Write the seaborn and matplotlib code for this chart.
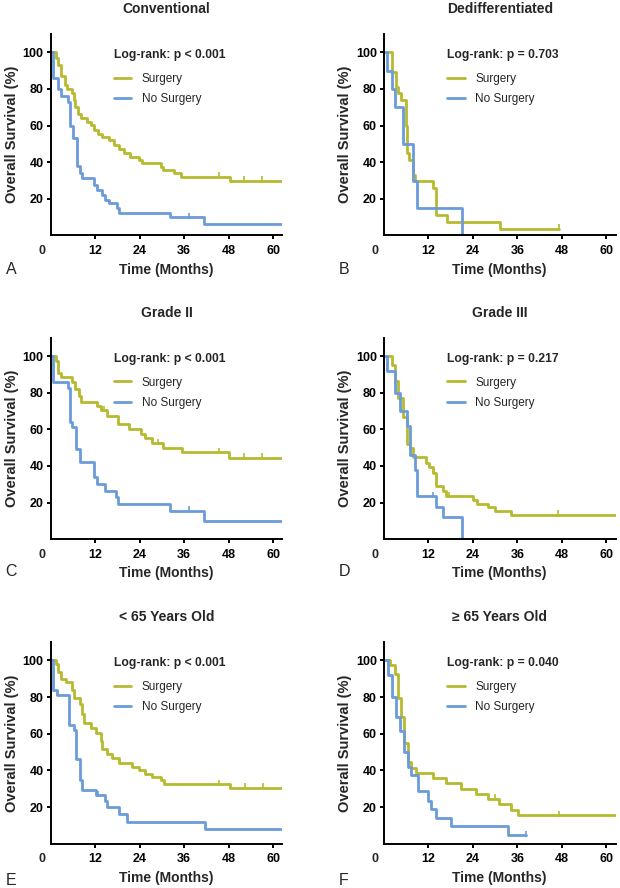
"""Kaplan-Meier overall survival curves, surgery vs no surgery, six subgroups."""

import numpy as np
import matplotlib
matplotlib.use("Agg")
import matplotlib.pyplot as plt
import seaborn as sns

# ---- data (time in months, survival in %) ----
titles = ["Conventional", "Dedifferentiated", "Grade II", "Grade III",
          "< 65 Years Old", "\u2265 65 Years Old"]
letters = ["A", "B", "C", "D", "E", "F"]
pvalues = ["p < 0.001", "p = 0.703", "p < 0.001", "p = 0.217",
           "p < 0.001", "p = 0.040"]

a_surg_t = [0, 1.4, 2.0, 2.7, 3.8, 4.5, 5.8, 6.2, 6.7, 7.3, 8.2, 9.7, 10.9, 11.7, 12.9,
            13.9, 15.7, 17.0, 18.4, 19.7, 21.4, 23.7, 24.7, 29.7, 30.3, 33.2, 35.1, 48.4, 62.5]
a_surg_s = [100, 97, 93, 87, 82, 80, 77.5, 74, 70, 66.5, 64, 62, 60.5, 57.5, 55.5,
            54, 52, 49.5, 47, 45, 43, 41, 39.5, 37.5, 36, 34, 32, 30, 30]
a_surg_c = [45.3, 52.0, 56.9]
a_none_t = [0, 0.7, 2.0, 2.9, 4.7, 5.1, 6.0, 7.1, 7.9, 8.6, 11.7, 12.6, 13.8, 14.7, 15.7,
            17.9, 18.5, 32.3, 41.3, 62.5]
a_none_s = [100, 86, 80, 76, 73, 59.5, 53, 38, 34, 31.5, 27.5, 25, 22, 19.5, 17.5,
            15, 12.5, 10, 6.5, 6.5]
a_none_c = [37.2]

b_surg_t = [0, 2.3, 3.3, 3.9, 4.7, 5.9, 6.3, 6.9, 8.0, 8.4, 13.3, 14.2, 17.0, 31.2, 47.3]
b_surg_s = [100, 89, 81, 78, 74, 60, 45, 41, 33, 30, 26, 11, 7.4, 3.7, 3.7]
b_surg_c = [47.3]
b_none_t = [0, 1.0, 2.1, 3.0, 5.3, 8.0, 9.0, 21.2]
b_none_s = [100, 90, 80, 70, 50, 30, 15, 0]
b_none_c = []

c_surg_t = [0, 1.4, 2.0, 2.9, 5.8, 6.7, 7.6, 8.2, 12.6, 13.5, 15.3, 18.2, 21.0, 24.5,
            25.4, 27.4, 30.3, 35.4, 48.1, 62.5]
c_surg_s = [100, 97.5, 91, 88.5, 86, 82, 78, 75, 73, 70.5, 67.5, 63, 60, 57.5,
            55, 52.5, 50, 47.5, 44.5, 44.5]
c_surg_c = [14.5, 29.0, 45.3, 52.0, 56.9]
c_none_t = [0, 0.7, 4.7, 5.1, 5.8, 6.9, 7.8, 11.7, 12.6, 14.7, 17.5, 18.2, 32.3, 41.3, 62.5]
c_none_s = [100, 86, 82.5, 64, 61, 49.5, 42, 34, 30, 26.5, 23, 19, 15.5, 10, 10]
c_none_c = [37.2]

d_surg_t = [0, 2.1, 3.0, 3.9, 5.1, 6.2, 7.1, 7.8, 11.5, 12.3, 13.3, 14.2, 16.0, 16.9,
            24.1, 25.0, 28.1, 29.9, 34.4, 62.5]
d_surg_s = [100, 95, 86.5, 77, 66.5, 52, 50, 45, 41.5, 39.5, 36, 29, 26.5, 23.5,
            21.5, 19, 17.5, 15.5, 13.5, 13.5]
d_surg_c = [17.5, 47.0]
d_none_t = [0, 1.0, 3.0, 4.4, 6.2, 7.1, 8.4, 9.0, 14.1, 16.0, 21.2]
d_none_s = [100, 92, 80, 70, 62, 46, 38, 23.5, 17.5, 12, 0]
d_none_c = [13.3]

e_surg_t = [0, 1.4, 2.0, 2.9, 4.2, 5.8, 6.4, 7.8, 8.6, 9.1, 10.9, 12.2, 13.5, 13.9, 15.3,
            16.6, 18.4, 21.9, 23.7, 25.4, 27.2, 29.8, 30.7, 48.4, 62.5]
e_surg_s = [100, 98, 93.5, 90, 88, 84, 79.5, 76, 70.5, 66, 63, 60.5, 56, 51.5, 49,
            47, 44, 42, 40, 38, 36.5, 35, 32.5, 30.5, 30.5]
e_surg_c = [45.3, 52.3, 57.2]
e_none_t = [0, 0.7, 1.8, 4.9, 6.2, 6.9, 7.8, 8.6, 12.2, 14.7, 15.3, 18.5, 20.6, 41.7, 62.5]
e_none_s = [100, 84, 81, 65, 62, 46, 35, 29.5, 26.5, 23.5, 20, 16, 12, 8, 8]
e_none_c = [12.8]

f_surg_t = [0, 1.6, 3.0, 3.8, 4.7, 5.5, 6.4, 7.4, 8.6, 13.2, 16.8, 20.9, 24.9, 28.0,
            31.0, 34.3, 36.1, 62.5]
f_surg_s = [100, 97.5, 92.5, 79.5, 69, 55, 44.5, 41.5, 38.5, 36, 33, 30, 27, 24.5,
            21.5, 18.5, 15.5, 15.5]
f_surg_c = [30.0, 47.2]
f_none_t = [0, 1.2, 2.1, 3.2, 4.3, 5.4, 6.5, 7.4, 9.2, 11.9, 12.8, 14.1, 18.2, 33.4, 38.3]
f_none_s = [100, 92, 80, 69, 61.5, 50, 42, 37.5, 28.5, 23.5, 19, 14, 9.5, 4.5, 4.5]
f_none_c = [38.3]

surgery = [(a_surg_t, a_surg_s, a_surg_c), (b_surg_t, b_surg_s, b_surg_c),
           (c_surg_t, c_surg_s, c_surg_c), (d_surg_t, d_surg_s, d_surg_c),
           (e_surg_t, e_surg_s, e_surg_c), (f_surg_t, f_surg_s, f_surg_c)]
no_surgery = [(a_none_t, a_none_s, a_none_c), (b_none_t, b_none_s, b_none_c),
              (c_none_t, c_none_s, c_none_c), (d_none_t, d_none_s, d_none_c),
              (e_none_t, e_none_s, e_none_c), (f_none_t, f_none_s, f_none_c)]

x_ticks = [12, 24, 36, 48, 60]
y_ticks = [20, 40, 60, 80, 100]

YELLOW = "#b6ba2f"
BLUE = "#6b9cd9"


def step_value(t, s, c):
    # survival level of a step curve at time c
    idx = np.searchsorted(t, c, side="right") - 1
    return np.asarray(s)[idx]


def draw_curve(ax, data, color, label):
    t, s, cens = data
    sns.lineplot(x=t, y=s, ax=ax, color=color, lw=2, drawstyle="steps-post",
                 estimator=None, sort=False, label=label)
    if cens:
        cy = [step_value(t, s, c) + 0.8 for c in cens]
        sns.scatterplot(x=cens, y=cy, ax=ax, marker="|", s=18, linewidth=1.2,
                        color=color, legend=False, zorder=3)


def main():
    sns.set_style("ticks")
    plt.rcParams["font.family"] = ["Liberation Sans", "DejaVu Sans"]

    fig = plt.figure(figsize=(6.2, 8.88), dpi=100)
    lefts = [0.0816, 0.619]
    bottoms = [0.7348, 0.3927, 0.0499]
    w, h = 0.374, 0.227

    for i in range(6):
        row, col = divmod(i, 2)
        ax = fig.add_axes([lefts[col], bottoms[row], w, h])

        draw_curve(ax, surgery[i], YELLOW, "Surgery")
        draw_curve(ax, no_surgery[i], BLUE, "No Surgery")

        ax.set_xlim(0, 62.5)
        ax.set_ylim(0, 110)
        ax.set_xticks(x_ticks)
        ax.set_yticks(y_ticks)
        ax.tick_params(width=1.4, length=3, labelsize=9, pad=2, colors="black")
        ax.tick_params(axis="x", pad=4)
        for lab in ax.get_xticklabels() + ax.get_yticklabels():
            lab.set_fontweight("bold")
        ax.annotate("0", xy=(0, 0), xycoords="data", xytext=(-6.2, -11),
                    textcoords="offset points", ha="center", va="center",
                    fontsize=9, fontweight="bold")
        sns.despine(ax=ax)
        for sp in ("left", "bottom"):
            ax.spines[sp].set_linewidth(1.4)
            ax.spines[sp].set_color("black")

        ax.set_title(titles[i], fontsize=10, fontweight="bold", pad=15)
        ax.set_xlabel("Time (Months)", fontsize=10, fontweight="bold")
        ax.set_ylabel("Overall Survival (%)", fontsize=10.5, fontweight="bold")
        ax.xaxis.set_label_coords(0.5, -0.135)
        ax.yaxis.set_label_coords(-0.135, 0.5)

        leg = ax.legend(loc="upper left", bbox_to_anchor=(0.272, 0.925),
                        frameon=False, fontsize=8.5, borderpad=0, borderaxespad=0,
                        handlelength=1.5, handletextpad=0.9, labelspacing=0.7,
                        title="Log-rank: " + pvalues[i],
                        title_fontproperties={"weight": "bold", "size": 8.7},
                        alignment="left")
        # a little more room between the log-rank line and the entries
        leg._legend_box.sep = 8.5
        for line in leg.get_lines():
            line.set_linewidth(2)

        fig.text(0.009 if col == 0 else 0.546,
                 [0.696, 0.356, 0.009][row], letters[i],
                 fontsize=11.5, va="center", ha="left")

    fig.savefig("out.png", dpi=100)


if __name__ == "__main__":
    main()
